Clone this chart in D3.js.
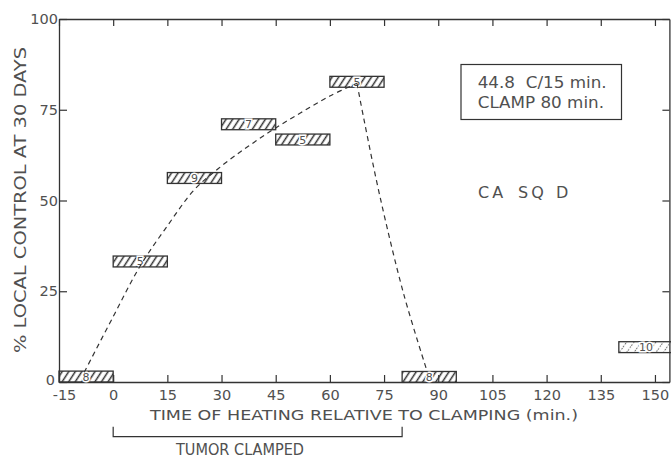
<!DOCTYPE html>
<html><head><meta charset="utf-8">
<script src="https://cdn.jsdelivr.net/npm/d3@7/dist/d3.min.js"></script>
<style>
body{margin:0;background:#fff}
svg text{font-family:"DejaVu Sans",sans-serif;fill:#505050}
</style>
</head><body><svg id="c" width="671" height="460"></svg>
<script>
// ---- data ----
const boxStart = [-15, 0, 15, 30, 45, 60, 80, 140];
const boxEnd   = [0, 15, 30, 45, 60, 75, 95, 155];
const boxValue = [1.5, 33.2, 56.2, 71, 66.8, 82.7, 1.4, 9.6];
const boxN     = ["8", "5", "9", "7", "5", "5", "8", "10"];
const xTicks = [-15, 0, 15, 30, 45, 60, 75, 90, 105, 120, 135, 150];
const yTicks = [0, 25, 50, 75, 100];
const riseX = [-8, 0, 7.5, 15, 22.5, 30, 37.5, 45, 52.5, 60, 67.5];
const riseY = [2.7, 18, 32, 43, 53, 59.5, 65, 70, 74.5, 78.8, 82.3];
const fallX = [67.5, 69.5, 74, 80.5, 87];
const fallY = [82.3, 72, 50.5, 24, 2.7];
const clampStart = 0, clampEnd = 80;
const legendLines = ["44.8  C/15 min.", "CLAMP 80 min."];
const labelWords = ["CA", "SQ", "D"];
const xTitle = "TIME OF HEATING RELATIVE TO CLAMPING (min.)";
const yTitle = "% LOCAL CONTROL AT 30 DAYS";
const bracketText = "TUMOR CLAMPED";

// ---- drawing ----
const svg = d3.select("#c");
const ink = "#333";
const x = d3.scaleLinear().domain([-15, 154]).range([59, 669.4]);
const y = d3.scaleLinear().domain([0, 100]).range([382, 19]);
const halfH = 1.5;

const defs = svg.append("defs");
const pat = defs.append("pattern").attr("id", "hatch")
  .attr("patternUnits", "userSpaceOnUse").attr("width", 5.5).attr("height", 6)
  .attr("patternTransform", "rotate(33)");
pat.append("line").attr("x1", 1.5).attr("x2", 1.5).attr("y1", 0).attr("y2", 6)
  .attr("stroke", ink).attr("stroke-width", 1.5);
const pat2 = defs.append("pattern").attr("id", "hatch2")
  .attr("patternUnits", "userSpaceOnUse").attr("width", 6).attr("height", 6)
  .attr("patternTransform", "rotate(35)");
pat2.append("line").attr("x1", 1.5).attr("x2", 1.5).attr("y1", 0).attr("y2", 6)
  .attr("stroke", "#666").attr("stroke-width", 1.1).attr("stroke-dasharray", "1.5,2");

// axes
const fmt = d => String(d);
const gB = svg.append("g").attr("transform", `translate(0,${y(0)})`)
  .call(d3.axisBottom(x).tickValues(xTicks).tickSize(-7).tickSizeOuter(0).tickPadding(8).tickFormat(fmt));
gB.selectAll("text").filter(d => d === -15).attr("dx", 5);
svg.append("g").attr("transform", `translate(0,${y(100)})`)
  .call(d3.axisTop(x).tickValues(xTicks).tickSize(-7).tickSizeOuter(0).tickFormat(""));
const gL = svg.append("g").attr("transform", `translate(${x(-15)},0)`)
  .call(d3.axisLeft(y).tickValues(yTicks).tickSize(-8).tickSizeOuter(0).tickPadding(1).tickFormat(fmt));
gL.selectAll("text").filter(d => d === 0).attr("dx", -3).attr("dy", "0.2em");
svg.append("g").attr("transform", `translate(${x(154)},0)`)
  .call(d3.axisRight(y).tickValues(yTicks).tickSize(-7).tickSizeOuter(0).tickFormat(""));
svg.selectAll(".domain").attr("stroke", ink).attr("stroke-width", 1.3);
svg.selectAll(".tick line").attr("stroke", ink).attr("stroke-width", 1.2);
svg.selectAll(".tick text").attr("font-family", "DejaVu Sans").attr("font-size", 14.5)
  .attr("fill", "#505050");

// boxes
const boxes = boxStart.map((s, i) => ({s, e: boxEnd[i], v: boxValue[i], n: boxN[i], i}));
const gBox = svg.append("g");
gBox.selectAll("rect").data(boxes).join("rect")
  .attr("x", d => x(d.s)).attr("width", d => x(d.e) - x(d.s))
  .attr("y", d => y(d.v + halfH)).attr("height", d => y(d.v - halfH) - y(d.v + halfH))
  .attr("fill", d => d.n === "10" ? "url(#hatch2)" : "url(#hatch)")
  .attr("stroke", ink).attr("stroke-width", 1.3);

// curve
const line = d3.line().x(d => x(d[0])).y(d => y(d[1])).curve(d3.curveCatmullRom.alpha(0.5));
svg.append("path").attr("d", line(riseX.map((v, i) => [v, riseY[i]])))
  .attr("fill", "none").attr("stroke", ink).attr("stroke-width", 1.2).attr("stroke-dasharray", "5,4");
svg.append("path").attr("d", line(fallX.map((v, i) => [v, fallY[i]])))
  .attr("fill", "none").attr("stroke", ink).attr("stroke-width", 1.2).attr("stroke-dasharray", "5,4");

// box labels
gBox.selectAll("text").data(boxes).join("text")
  .attr("x", d => x((d.s + d.e) / 2)).attr("y", d => y(d.v) + 4)
  .attr("text-anchor", "middle").attr("font-size", 11)
  .attr("fill", "#333")
  .attr("stroke", "#fff").attr("stroke-width", 3).attr("paint-order", "stroke")
  .text(d => d.n);

// legend box
svg.append("rect").attr("x", 461).attr("y", 64.5).attr("width", 160.5).attr("height", 55)
  .attr("fill", "none").attr("stroke", ink).attr("stroke-width", 1.2);
svg.append("text").attr("x", 477.7).attr("y", 88.3).attr("font-size", 16)
  .attr("textLength", 129).attr("lengthAdjust", "spacingAndGlyphs").attr("xml:space", "preserve").text(legendLines[0]);
svg.append("text").attr("x", 477.7).attr("y", 107.5).attr("font-size", 16)
  .attr("textLength", 126.3).attr("lengthAdjust", "spacingAndGlyphs").text(legendLines[1]);
const wordX = [478, 518, 556];
svg.append("g").selectAll("text").data(labelWords).join("text")
  .attr("x", (d, i) => wordX[i]).attr("y", 198.3).attr("font-size", 16)
  .attr("letter-spacing", 3).text(d => d);

// titles
svg.append("text").attr("x", 150).attr("y", 419.5).attr("font-size", 14.5)
  .attr("textLength", 428).attr("lengthAdjust", "spacingAndGlyphs").text(xTitle);
svg.append("text").attr("transform", "translate(26,200) rotate(-90)")
  .attr("text-anchor", "middle").attr("font-size", 16)
  .attr("textLength", 306).attr("lengthAdjust", "spacingAndGlyphs").text(yTitle);

// bracket
svg.append("path")
  .attr("d", `M${x(clampStart)},426.7V436.7H${x(clampEnd)}V426.7`)
  .attr("fill", "none").attr("stroke", ink).attr("stroke-width", 1.2);
svg.append("text").attr("x", 176).attr("y", 455).attr("font-size", 15)
  .attr("textLength", 128).attr("lengthAdjust", "spacingAndGlyphs").text(bracketText);
</script>
</body></html>
